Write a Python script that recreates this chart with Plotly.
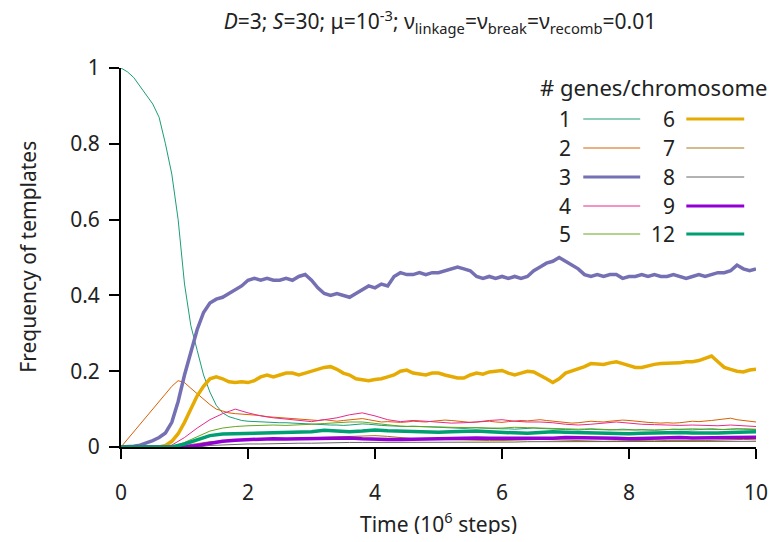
import plotly.graph_objects as go

# ---- data ----
T_FINE = [round(i * 0.1, 1) for i in range(101)]
T_COARSE = [round(i * 0.2, 1) for i in range(51)]

s1 = [1.0, 0.99, 0.975, 0.952, 0.93, 0.905, 0.87, 0.80, 0.72, 0.60,
      0.43, 0.32, 0.255, 0.19, 0.145, 0.11, 0.09, 0.08, 0.075, 0.07,
      0.068, 0.067, 0.066, 0.066, 0.065, 0.064, 0.064, 0.063, 0.062, 0.062,
      0.061, 0.06, 0.059, 0.058, 0.058, 0.057, 0.058, 0.06, 0.061, 0.06,
      0.058, 0.057, 0.056, 0.055, 0.054, 0.054, 0.055, 0.054, 0.053, 0.052,
      0.052, 0.051, 0.05, 0.05, 0.049, 0.05, 0.051, 0.05, 0.049, 0.048,
      0.048, 0.048, 0.047, 0.048, 0.049, 0.05, 0.049, 0.048, 0.047, 0.046,
      0.046, 0.046, 0.045, 0.046, 0.047, 0.046, 0.045, 0.045, 0.046, 0.047,
      0.046, 0.045, 0.046, 0.045, 0.044, 0.045, 0.046, 0.047, 0.046, 0.045,
      0.045, 0.046, 0.047, 0.048, 0.047, 0.046, 0.047, 0.048, 0.047, 0.046,
      0.046]

s2 = [0.0, 0.02, 0.04, 0.06, 0.08, 0.10, 0.12, 0.14, 0.16, 0.175,
      0.17, 0.155, 0.14, 0.125, 0.112, 0.10, 0.095, 0.09, 0.088, 0.087,
      0.085, 0.084, 0.083, 0.08, 0.079, 0.078, 0.076, 0.075, 0.073, 0.072,
      0.071, 0.07, 0.072, 0.07, 0.068, 0.07, 0.072, 0.074, 0.075, 0.072,
      0.068, 0.066, 0.067, 0.066, 0.065, 0.066, 0.068, 0.067, 0.066, 0.068,
      0.07, 0.071, 0.07, 0.068, 0.066, 0.065, 0.066, 0.067, 0.068, 0.066,
      0.065, 0.067, 0.068, 0.07, 0.069, 0.07, 0.072, 0.07, 0.068, 0.066,
      0.064, 0.063, 0.064, 0.066, 0.068, 0.067, 0.066, 0.068, 0.07, 0.071,
      0.07, 0.068, 0.066, 0.065, 0.064, 0.063, 0.064, 0.063, 0.064, 0.066,
      0.068, 0.067, 0.068, 0.07, 0.072, 0.075, 0.076, 0.072, 0.07, 0.068,
      0.066]

s3 = [0.0, 0.0, 0.002, 0.005, 0.01, 0.017, 0.025, 0.037, 0.065, 0.12,
      0.19, 0.25, 0.31, 0.355, 0.38, 0.39, 0.395, 0.405, 0.415, 0.425,
      0.44, 0.445, 0.44, 0.445, 0.44, 0.44, 0.445, 0.44, 0.45, 0.455,
      0.44, 0.42, 0.405, 0.40, 0.405, 0.40, 0.395, 0.405, 0.415, 0.425,
      0.42, 0.43, 0.425, 0.45, 0.46, 0.455, 0.455, 0.46, 0.455, 0.46,
      0.46, 0.465, 0.47, 0.475, 0.47, 0.465, 0.45, 0.445, 0.45, 0.445,
      0.45, 0.445, 0.45, 0.445, 0.45, 0.465, 0.475, 0.485, 0.49, 0.50,
      0.49, 0.48, 0.47, 0.455, 0.45, 0.455, 0.45, 0.455, 0.455, 0.445,
      0.45, 0.45, 0.455, 0.45, 0.455, 0.45, 0.45, 0.455, 0.45, 0.445,
      0.45, 0.455, 0.45, 0.455, 0.46, 0.46, 0.465, 0.48, 0.47, 0.465,
      0.47]

s6 = [0.0, 0.0, 0.0, 0.0, 0.0, 0.0, 0.0, 0.004, 0.015, 0.035,
      0.065, 0.10, 0.135, 0.16, 0.18, 0.185, 0.18, 0.172, 0.17, 0.172,
      0.17, 0.175, 0.185, 0.19, 0.185, 0.19, 0.195, 0.195, 0.19, 0.195,
      0.2, 0.205, 0.21, 0.212, 0.205, 0.195, 0.19, 0.18, 0.178, 0.175,
      0.178, 0.18, 0.185, 0.19, 0.2, 0.203, 0.195, 0.192, 0.19, 0.195,
      0.195, 0.19, 0.185, 0.182, 0.182, 0.19, 0.195, 0.192, 0.198, 0.2,
      0.202, 0.195, 0.19, 0.195, 0.2, 0.198, 0.19, 0.18, 0.17, 0.18,
      0.195, 0.2, 0.205, 0.212, 0.22, 0.22, 0.218, 0.222, 0.225, 0.22,
      0.215, 0.21, 0.21, 0.215, 0.218, 0.22, 0.22, 0.22, 0.222, 0.225,
      0.225, 0.228, 0.235, 0.24, 0.225, 0.21, 0.205, 0.2, 0.198, 0.203,
      0.205]

s4 = [0.0, 0.0, 0.0, 0.0, 0.005, 0.025, 0.05, 0.072, 0.088, 0.1,
      0.09, 0.082, 0.077, 0.074, 0.07, 0.067, 0.072, 0.077, 0.085, 0.09,
      0.082, 0.072, 0.067, 0.07, 0.068, 0.065, 0.063, 0.064, 0.066, 0.07,
      0.072, 0.068, 0.066, 0.066, 0.064, 0.06, 0.058, 0.06, 0.062, 0.066,
      0.063, 0.06, 0.059, 0.058, 0.057, 0.058, 0.057, 0.056, 0.058, 0.056,
      0.054]

s5 = [0.0, 0.0, 0.0, 0.0, 0.0, 0.012, 0.028, 0.042, 0.05, 0.054,
      0.056, 0.057, 0.058, 0.057, 0.058, 0.06, 0.062, 0.064, 0.066, 0.066,
      0.062, 0.058, 0.055, 0.054, 0.054, 0.053, 0.052, 0.051, 0.05, 0.05,
      0.05, 0.052, 0.051, 0.05, 0.049, 0.048, 0.047, 0.048, 0.046, 0.045,
      0.045, 0.044, 0.045, 0.046, 0.047, 0.048, 0.047, 0.046, 0.047, 0.048,
      0.047]

s7 = [0.0, 0.0, 0.0, 0.0, 0.0, 0.004, 0.01, 0.014, 0.016, 0.018,
      0.02, 0.02, 0.021, 0.021, 0.022, 0.023, 0.025, 0.026, 0.028, 0.029,
      0.03, 0.028, 0.025, 0.022, 0.021, 0.02, 0.019, 0.018, 0.017, 0.017,
      0.017, 0.018, 0.019, 0.02, 0.019, 0.018, 0.016, 0.015, 0.015, 0.016,
      0.017, 0.018, 0.018, 0.017, 0.017, 0.016, 0.017, 0.018, 0.019, 0.02,
      0.019]

s8 = [0.0, 0.0, 0.0, 0.0, 0.0, 0.0, 0.0, 0.004, 0.006, 0.007,
      0.008, 0.008, 0.009, 0.009, 0.01, 0.01, 0.011, 0.011, 0.012, 0.012,
      0.012, 0.012, 0.012, 0.012, 0.012, 0.012, 0.012, 0.013, 0.013, 0.013,
      0.013, 0.013, 0.014, 0.014, 0.014, 0.014, 0.014, 0.013, 0.013, 0.013,
      0.013, 0.013, 0.014, 0.014, 0.014, 0.014, 0.014, 0.015, 0.015, 0.015,
      0.015]

s9 = [0.0, 0.0, 0.0, 0.0, 0.0, 0.0, 0.004, 0.01, 0.015, 0.018,
      0.02, 0.02, 0.022, 0.021, 0.022, 0.022, 0.023, 0.023, 0.024, 0.022,
      0.02, 0.02, 0.02, 0.021, 0.022, 0.022, 0.023, 0.024, 0.024, 0.023,
      0.023, 0.023, 0.022, 0.022, 0.023, 0.025, 0.025, 0.024, 0.024, 0.023,
      0.022, 0.023, 0.024, 0.025, 0.025, 0.024, 0.024, 0.025, 0.025, 0.025,
      0.026]

s12 = [0.0, 0.0, 0.0, 0.0, 0.0, 0.008, 0.02, 0.03, 0.034, 0.035,
       0.034, 0.035, 0.036, 0.037, 0.038, 0.04, 0.044, 0.042, 0.04, 0.042,
       0.045, 0.043, 0.042, 0.04, 0.038, 0.039, 0.04, 0.041, 0.042, 0.04,
       0.038, 0.037, 0.036, 0.038, 0.04, 0.039, 0.038, 0.037, 0.036, 0.036,
       0.035, 0.036, 0.037, 0.038, 0.038, 0.037, 0.036, 0.037, 0.038, 0.039,
       0.04]

LABELS = ["1", "2", "3", "4", "5", "6", "7", "8", "9", "12"]
SERIES = [(T_FINE, s1), (T_FINE, s2), (T_FINE, s3), (T_COARSE, s4), (T_COARSE, s5),
          (T_FINE, s6), (T_COARSE, s7), (T_COARSE, s8), (T_COARSE, s9), (T_COARSE, s12)]
COLORS = ["#1b9e77", "#d95f02", "#7570b3", "#e7298a", "#66a61e",
          "#e6ab02", "#a6761d", "#666666", "#9400d3", "#009e73"]
WIDTHS = [1, 1, 3.5, 1, 1, 3.5, 1, 1, 3.5, 3.5]

FONT = "Noto Sans"
TXT = "#222"
FS = 21

fig = go.Figure()
for (t, v), lab, col, w in zip(SERIES, LABELS, COLORS, WIDTHS):
    fig.add_trace(go.Scatter(x=t, y=v, mode="lines", name=lab,
                             line=dict(color=col, width=w), showlegend=False,
                             cliponaxis=False))

# the page's default 8 px body margin offsets the figure inside the window
OFF = 8
FIG_W, FIG_H = 784 - 2 * OFF, 542 - 2 * OFF
# plot area in window pixels
L, R, TOP, BOT = 121, 768, 68, 447
W, H = R - L, BOT - TOP
def px(x):
    return (x - L) / W
def py(y):
    return (BOT - y) / H

# ---- custom legend (label to the left of the sample line) ----
row_y = [119, 148, 177, 206, 234]
annotations = [dict(text="# genes/chromosome", xref="paper", yref="paper",
                    x=px(664), y=py(87), xanchor="center", yanchor="middle",
                    showarrow=False, font=dict(family=FONT, size=22, color=TXT))]
shapes = []
for i, (lab, col, w) in enumerate(zip(LABELS, COLORS, WIDTHS)):
    col_i, row_i = divmod(i, 5)
    label_right = 582 if col_i == 0 else 688
    x0, x1 = (592, 650) if col_i == 0 else (697, 756)
    yy = row_y[row_i]
    annotations.append(dict(text=lab, xref="paper", yref="paper",
                            x=px(label_right), y=py(yy), xanchor="right",
                            yanchor="middle", showarrow=False,
                            font=dict(family=FONT, size=FS, color=TXT)))
    shapes.append(dict(type="line", xref="paper", yref="paper",
                       x0=px(x0), x1=px(x1), y0=py(yy), y1=py(yy),
                       line=dict(color=col, width=min(w, 3))))

annotations.append(dict(text="Time (10<sup>6</sup> steps)", xref="paper", yref="paper",
                        x=px(444.5), y=py(522), xanchor="center", yanchor="middle",
                        showarrow=False, font=dict(family=FONT, size=FS, color=TXT)))
annotations.append(dict(text="Frequency of templates", xref="paper", yref="paper",
                        x=px(26), y=py(257), xanchor="center", yanchor="middle",
                        textangle=-90, showarrow=False,
                        font=dict(family=FONT, size=FS, color=TXT)))

fig.update_layout(
    width=FIG_W, height=FIG_H,
    margin=dict(l=L - OFF, r=FIG_W - (R - OFF), t=TOP - OFF, b=FIG_H - (BOT - OFF)),
    paper_bgcolor="white", plot_bgcolor="white",
    font=dict(family=FONT, size=FS, color=TXT),
    title=dict(text="<i>D</i>=3; <i>S</i>=30; μ=10<sup>-3</sup>; "
                    "ν<sub>linkage</sub>=ν<sub>break</sub>=ν<sub>recomb</sub>=0.01",
               x=px(446), xref="paper", xanchor="center",
               y=1 - (22 - OFF) / FIG_H, yref="container", yanchor="middle",
               font=dict(family=FONT, size=FS, color=TXT)),
    xaxis=dict(range=[0, 10], tickvals=[0, 2, 4, 6, 8, 10], showgrid=False,
               zeroline=False, showline=True, linecolor="black", linewidth=2,
               ticks="outside", ticklen=10, tickwidth=2, tickcolor="black",
               ticklabelstandoff=16, ticklabeloverflow="allow",
               tickfont=dict(family=FONT, size=FS, color=TXT)),
    yaxis=dict(range=[0, 1], tickvals=[0, 0.2, 0.4, 0.6, 0.8, 1],
               ticktext=["0", "0.2", "0.4", "0.6", "0.8", "1"], showgrid=False,
               zeroline=False, showline=True, linecolor="black", linewidth=2,
               ticks="outside", ticklen=10, tickwidth=2, tickcolor="black",
               ticklabelstandoff=5, tickfont=dict(family=FONT, size=FS, color=TXT)),
    annotations=annotations, shapes=shapes,
)

fig.write_html("out.html", config={"displayModeBar": False})
